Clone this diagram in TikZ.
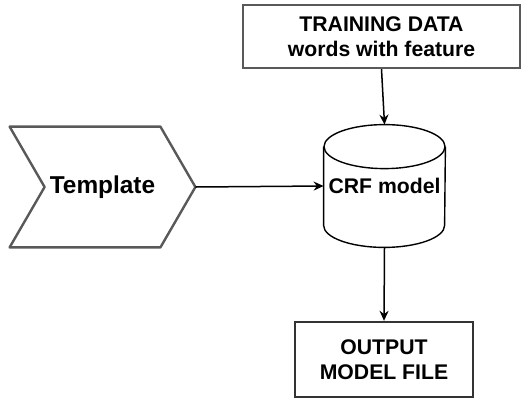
\documentclass[tikz,border=0pt]{standalone}
\usepackage{fontspec}
\setmainfont{Liberation Sans}
\usetikzlibrary{calc,arrows.meta}
\tikzset{
    block/.style = {draw=black!65, rectangle, line width=1.2pt,
        align=center, font=\fontsize{10.6}{12.4}\selectfont\bfseries},
    hidden/.style = {rectangle, inner sep=0pt,
        font=\fontsize{10.6}{12.4}\selectfont\bfseries},
    arrow/.style = {draw, line width=0.75pt, -{Stealth[length=5pt,width=4.5pt]}}
}
\begin{document}
\begin{tikzpicture}[x=0.5pt,y=-0.5pt]
                \useasboundingbox (0,0) rectangle (523,402);
                \node [block, minimum width=138.5pt, minimum height=31.5pt] (train) at (381.5,36.5) {TRAINING DATA\\words with feature};
                \node [hidden, minimum width=92.5pt, minimum height=60pt, font=\fontsize{12.2}{14}\selectfont\bfseries] (tpl) at (102.5,187) {Template};
                \node [hidden, minimum width=60.5pt, minimum height=61pt] (crf) at (384.5,186) {CRF model};
                \node [block, draw=black!80, minimum width=89pt, minimum height=37.5pt] (out) at (384,359.5) {OUTPUT\\MODEL FILE};
                % chevron round the template node
                \draw [draw=black!65, line width=1.2pt, line join=round]
                    (tpl.north west) -- ($(tpl.north east)+(-35,0)$) -- (tpl.east)
                    -- ($(tpl.south east)+(-35,0)$) -- (tpl.south west)
                    -- ($(tpl.west)+(35,0)$) -- cycle;
                % cylinder round the crf node
                \draw [line width=0.7pt] ($(crf.north)+(0,22)$) ellipse [x radius=30.25pt, y radius=11pt];
                \draw [line width=0.7pt] ($(crf.north west)+(0,22)$) -- ($(crf.south west)+(0,-22)$)
                    arc [start angle=180, end angle=360, x radius=30.25pt, y radius=11pt]
                    -- ($(crf.north east)+(0,22)$);
                \draw [arrow] (train.south) -- (crf.north);
                \draw [arrow] (tpl.east) -- (crf.west);
                \draw [arrow] (crf.south) -- (out.north);
\end{tikzpicture}
\end{document}
